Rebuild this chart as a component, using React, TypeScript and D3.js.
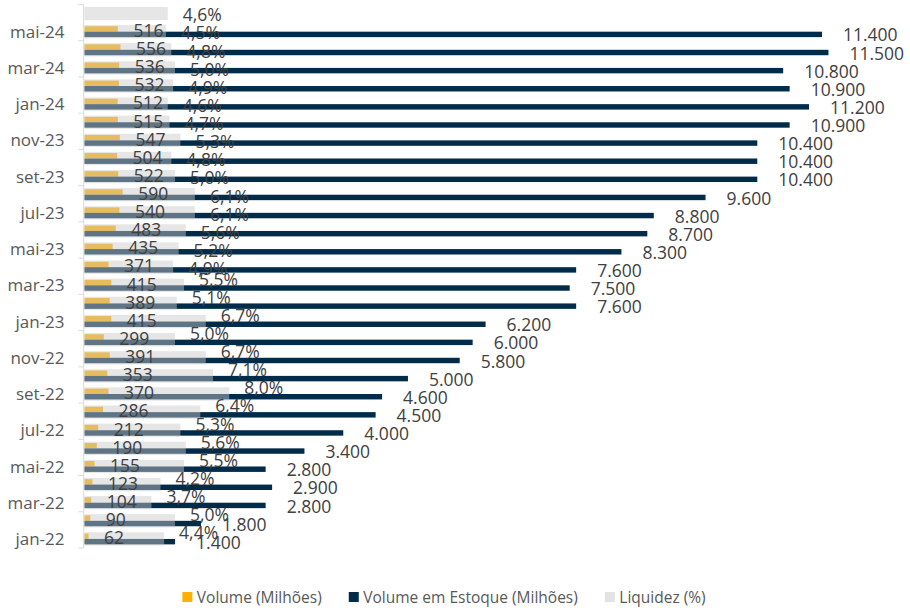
import React, { useEffect, useRef } from 'react'
import * as d3 from 'd3'

const months = [
	'jan-22', 'fev-22', 'mar-22', 'abr-22', 'mai-22', 'jun-22', 'jul-22', 'ago-22', 'set-22', 'out-22', 'nov-22', 'dez-22',
	'jan-23', 'fev-23', 'mar-23', 'abr-23', 'mai-23', 'jun-23', 'jul-23', 'ago-23', 'set-23', 'out-23', 'nov-23', 'dez-23',
	'jan-24', 'fev-24', 'mar-24', 'abr-24', 'mai-24', 'jun-24'
]
// Volume (Milhões), jan-22 .. mai-24
const volume = [62, 90, 104, 123, 155, 190, 212, 286, 370, 353, 391, 299, 415, 389, 415, 371, 435, 483, 540, 590, 522, 504, 547, 515, 512, 532, 536, 556, 516]
// Volume em Estoque (Milhões), jan-22 .. mai-24
const estoque = [1400, 1800, 2800, 2900, 2800, 3400, 4000, 4500, 4600, 5000, 5800, 6000, 6200, 7600, 7500, 7600, 8300, 8700, 8800, 9600, 10400, 10400, 10400, 10900, 11200, 10900, 10800, 11500, 11400]
// Liquidez (%), jan-22 .. jun-24
const liquidez = [4.4, 5.0, 3.7, 4.2, 5.5, 5.6, 5.3, 6.4, 8.0, 7.1, 6.7, 5.0, 6.7, 5.1, 5.5, 4.9, 5.2, 5.6, 6.1, 6.1, 5.0, 4.8, 5.3, 4.7, 4.6, 4.9, 5.0, 4.8, 4.5, 4.6]

const seriesNames = ['Volume (Milhões)', 'Volume em Estoque (Milhões)', 'Liquidez (%)']
const seriesColors = ['#FFB000', '#002B49', '#E3E3E3']

const FONT = '"Open Sans", sans-serif'

export default function App() {
	const ref = useRef<SVGSVGElement>(null)

	useEffect(() => {
		const svg = d3.select(ref.current)
		svg.selectAll('*').remove()

		const locale = d3.formatLocale({ decimal: ',', thousands: '.', grouping: [3], currency: ['R$', ''] })
		const fmtInt = locale.format(',')
		const fmtPct = locale.format('.1f')

		const left = 84.5, right = 860.8, top = 4.5, bottom = 548

		const y = d3.scaleBand<string>()
			.domain(months.slice().reverse())
			.range([top, bottom])
		const step = y.step()
		const cy = (i: number) => (y(months[i]) as number) + step / 2

		const x = d3.scaleLinear().domain([0, 12000]).range([left, right])
		const xPct = d3.scaleLinear().domain([0, 42.9]).range([left, right])

		const half = step * 0.3

		// primary bars
		const g = svg.append('g')
		g.selectAll('rect.vol')
			.data(volume)
			.enter()
			.append('rect')
			.attr('x', x(0))
			.attr('y', (d, i) => cy(i) - half)
			.attr('width', d => x(d) - x(0))
			.attr('height', half)
			.attr('fill', seriesColors[0])
		g.selectAll('rect.est')
			.data(estoque)
			.enter()
			.append('rect')
			.attr('x', x(0))
			.attr('y', (d, i) => cy(i))
			.attr('width', d => x(d) - x(0))
			.attr('height', half)
			.attr('fill', seriesColors[1])

		// secondary bars, semi transparent on top
		const gh = step * 0.735
		g.selectAll('rect.liq')
			.data(liquidez)
			.enter()
			.append('rect')
			.attr('x', xPct(0))
			.attr('y', (d, i) => cy(i) - gh / 2)
			.attr('width', d => xPct(d) - xPct(0))
			.attr('height', gh)
			.attr('fill', '#c9c9c9')
			.attr('fill-opacity', 0.47)

		// axis
		const ax = svg.append('g').attr('stroke', '#d9d9d9').attr('stroke-width', 1)
		ax.append('line')
			.attr('x1', left - 0.8).attr('x2', left - 0.8)
			.attr('y1', top).attr('y2', bottom)
		ax.selectAll('line.tick')
			.data(d3.range(0, months.length + 1, 2))
			.enter()
			.append('line')
			.attr('x1', left - 6).attr('x2', left - 0.8)
			.attr('y1', k => bottom - k * step)
			.attr('y2', k => bottom - k * step)

		svg.append('g')
			.selectAll('text')
			.data(months.filter((m, i) => i % 2 === 0 && i < estoque.length))
			.enter()
			.append('text')
			.attr('x', left - 20)
			.attr('y', m => (y(m) as number) + step / 2)
			.attr('dy', '0.36em')
			.attr('text-anchor', 'end')
			.attr('font-family', FONT)
			.attr('font-size', 17)
			.attr('fill', '#595959')
			.text(m => m)

		// labels
		const lab = svg.append('g')
			.attr('font-family', FONT)
			.attr('font-size', 17.5)
			.attr('fill', '#404040')
		lab.selectAll('text.vol')
			.data(volume)
			.enter()
			.append('text')
			.attr('x', d => x(d) + 15.5)
			.attr('y', (d, i) => cy(i) - 1)
			.attr('dy', '0.36em')
			.text(d => fmtInt(d))
		lab.selectAll('text.est')
			.data(estoque)
			.enter()
			.append('text')
			.attr('x', d => x(d) + 21)
			.attr('y', (d, i) => cy(i) + 3.5)
			.attr('dy', '0.36em')
			.text(d => fmtInt(d))
		// Excel nudged the older liquidez labels up a bit
		lab.selectAll('text.liq')
			.data(liquidez)
			.enter()
			.append('text')
			.attr('x', d => xPct(d) + 15)
			.attr('y', (d, i) => cy(i) + (i < 15 ? -6 : 1.5))
			.attr('dy', '0.36em')
			.text(d => fmtPct(d) + '%')

		// legend
		const leg = svg.append('g')
			.attr('font-family', FONT)
			.attr('font-size', 15.5)
			.attr('fill', '#595959')
		let cx = 0
		seriesNames.forEach((name, i) => {
			const item = leg.append('g').attr('transform', 'translate(' + cx + ',0)')
			item.append('rect')
				.attr('x', 0).attr('y', -5.5)
				.attr('width', 10).attr('height', 10)
				.attr('fill', seriesColors[i])
			const t = item.append('text')
				.attr('x', 14.5)
				.attr('dy', '0.36em')
				.text(name)
			const w = (t.node() as SVGTextElement).getComputedTextLength()
			cx += 14.5 + w + 27
		})
		const total = cx - 27
		leg.attr('transform', 'translate(' + (444 - total / 2) + ',597.5)')
	}, [])

	return (
		<svg ref={ref} width={910} height={608}
			style={{ position: 'absolute', left: 0, top: 0, background: '#fff' }} />
	)
}
